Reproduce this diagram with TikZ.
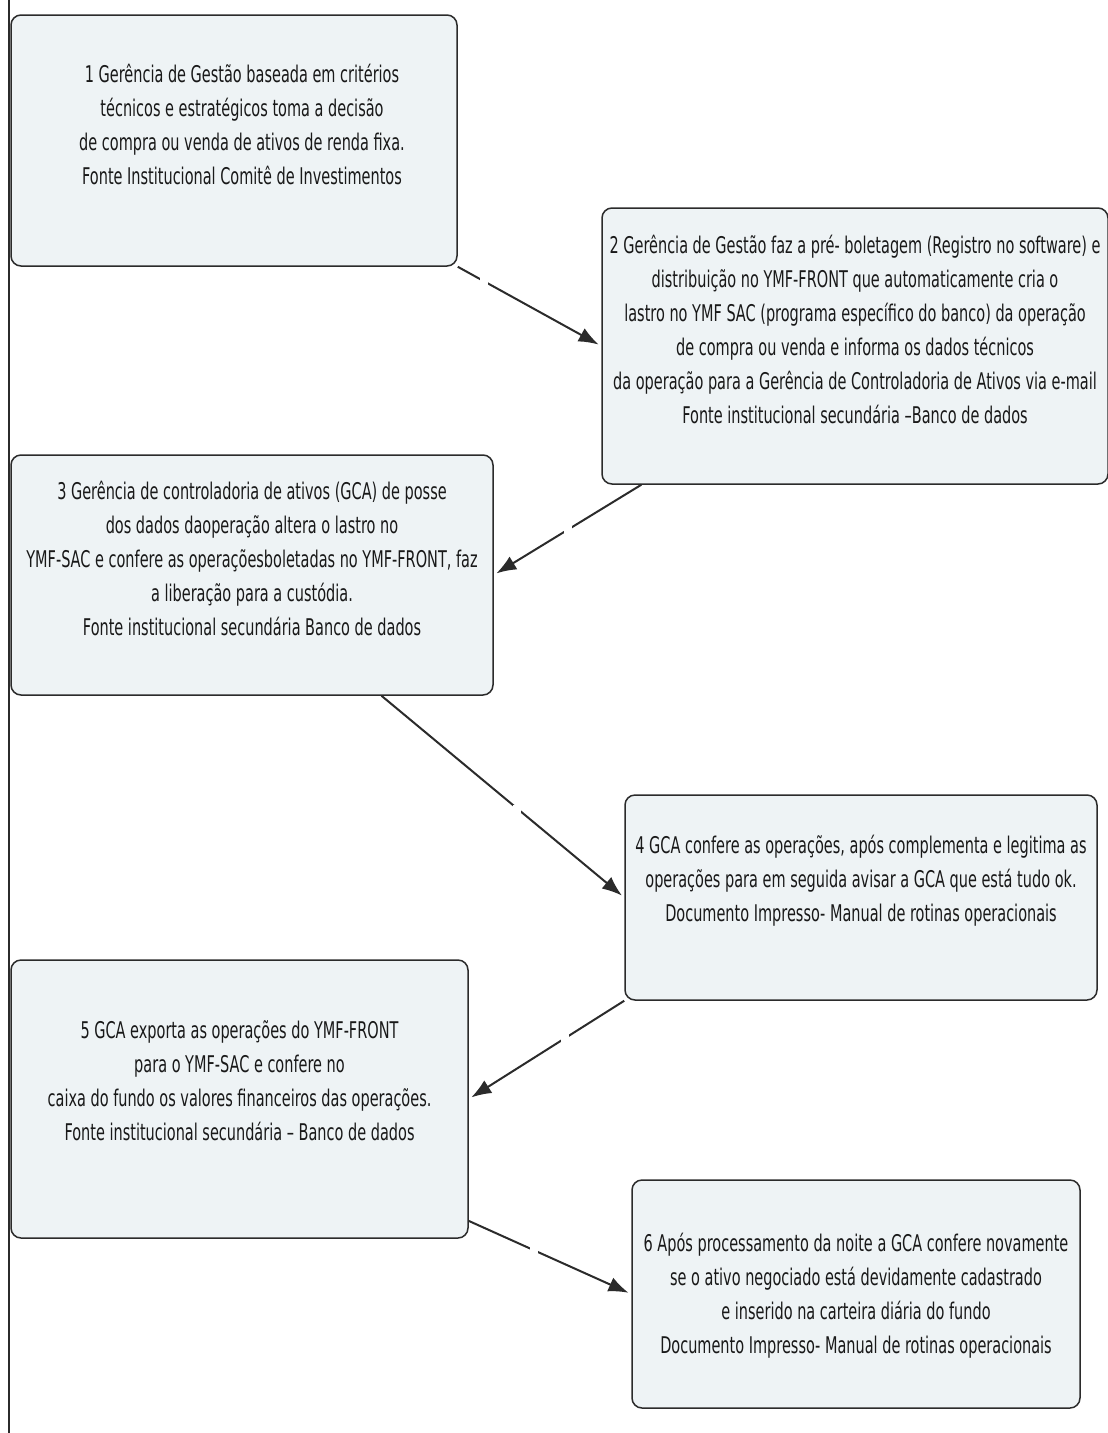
\documentclass[tikz,border=0pt]{standalone}
\usepackage{fontspec}
\setmainfont{DejaVu Sans}[FakeStretch=0.63]
\usetikzlibrary{arrows.meta}
\definecolor{boxfill}{HTML}{EEF3F5}
\definecolor{boxline}{HTML}{2B2B2B}
\begin{document}
\begin{tikzpicture}[x=1pt,y=-1pt]
\tikzstyle{etapa}=[rectangle,rounded corners=10pt,draw=boxline,line width=1.5pt,fill=boxfill]
\tikzstyle{texto}=[align=center,inner sep=0pt,font=\fontsize{23}{34}\selectfont,text=black!90]
\tikzstyle{seta}=[draw=boxline,line width=2pt,-{Latex[length=20pt,width=15pt]},shorten >=3pt]
\tikzstyle{falha}=[fill=white,inner sep=0pt,minimum size=8pt]
\useasboundingbox (0,0) rectangle (1108,1433);
\draw [boxline,line width=1.6pt] (9,0) -- (9,1433);
% caixas
\node [etapa,minimum width=446pt,minimum height=251pt] (b1) at (234,140.5) {};
\node [etapa,minimum width=506pt,minimum height=276pt] (b2) at (855,346) {};
\node [etapa,minimum width=482pt,minimum height=240pt] (b3) at (252,575) {};
\node [etapa,minimum width=472pt,minimum height=205pt] (b4) at (861,897.5) {};
\node [etapa,minimum width=457pt,minimum height=278pt] (b5) at (239.5,1099) {};
\node [etapa,minimum width=448pt,minimum height=228pt] (b6) at (856,1294) {};
% textos
\node [texto] (t1) at ([xshift=8pt,yshift=16pt]b1.center) {1 Gerência de Gestão baseada em critérios\\técnicos e estratégicos toma a decisão\\de compra ou venda de ativos de renda fixa.\\Fonte Institucional Comitê de Investimentos};
\node [texto] (t2) at ([yshift=17pt]b2.center) {2 Gerência de Gestão faz a pré- boletagem (Registro no software) e\\distribuição no YMF-FRONT que automaticamente cria o\\lastro no YMF SAC (programa específico do banco) da operação\\de compra ou venda e informa os dados técnicos\\da operação para a Gerência de Controladoria de Ativos via e-mail\\Fonte institucional secundária –Banco de dados};
\node [texto] (t3) at ([yshift=17pt]b3.center) {3 Gerência de controladoria de ativos (GCA) de posse\\dos dados daoperação altera o lastro no\\YMF-SAC e confere as operaçõesboletadas no YMF-FRONT, faz\\a liberação para a custódia.\\Fonte institucional secundária Banco de dados};
\node [texto] (t4) at ([yshift=17pt]b4.center) {4 GCA confere as operações, após complementa e legitima as\\operações para em seguida avisar a GCA que está tudo ok.\\Documento Impresso- Manual de rotinas operacionais};
\node [texto] (t5) at ([yshift=18pt]b5.center) {5 GCA exporta as operações do YMF-FRONT\\para o YMF-SAC e confere no\\caixa do fundo os valores financeiros das operações.\\Fonte institucional secundária – Banco de dados};
\node [texto] (t6) at ([yshift=-2pt]b6.center) {6 Após processamento da noite a GCA confere novamente\\se o ativo negociado está devidamente cadastrado\\e inserido na carteira diária do fundo\\Documento Impresso- Manual de rotinas operacionais};
% setas
\draw [seta] (b1.south east) -- node[pos=0.18,falha]{} (b2.west);
\draw [seta] (b2.213) -- node[pos=0.5,falha]{} (b3.east);
\draw [seta] (b3.-43) -- node[pos=0.56,falha]{} (b4.west);
\draw [seta] (b4.south west) -- node[pos=0.38,falha]{} (b5.east);
\draw [seta] (b5.-28) -- node[pos=0.4,falha]{} (b6.west);
\end{tikzpicture}
\end{document}
